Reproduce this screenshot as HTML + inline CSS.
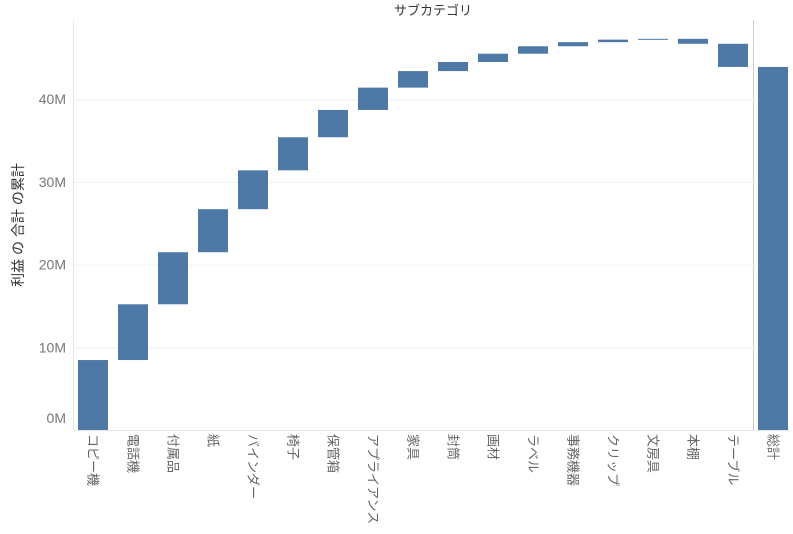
<!DOCTYPE html>
<html><head><meta charset="utf-8"><style>
body{margin:0;background:#fff;font-family:"Liberation Sans","Noto Sans CJK JP",sans-serif}
svg text{font-family:"Liberation Sans","Noto Sans CJK JP",sans-serif}
</style></head><body>
<svg id="c" width="793" height="529">
<text x="433" y="15" text-anchor="middle" font-size="13" fill="#333">サブカテゴリ</text>
<text transform="translate(23,225) rotate(-90)" text-anchor="middle" font-size="14" fill="#333">利益 の 合計 の累計</text>
<line x1="73.5" y1="20" x2="73.5" y2="430" stroke="#e6e6e6"/>
<line x1="753.5" y1="20" x2="753.5" y2="430" stroke="#ccc"/>
<g id="grid"></g><g id="bars"></g><g id="labels"></g>
</svg>
<script>
const categories=["コピー機","電話機","付属品","紙","バインダー","椅子","保管箱","アプライアンス","家具","封筒","画材","ラベル","事務機器","クリップ","文房具","本棚","テーブル"];
const deltas=[8.46,6.74,6.3,5.2,4.7,4.0,3.3,2.7,2.0,1.1,1.0,0.9,0.5,0.3,0.1,-0.6,-2.8];
const totalLabel="総計";
const ticks=[0,10,20,30,40];
const tickLabels=["0M","10M","20M","30M","40M"];
const NS="http://www.w3.org/2000/svg";
const y=v=>430-v*8.27;
const x=i=>i<categories.length?93+i*40:773;
function mk(t,a,p){const e=document.createElementNS(NS,t);for(const k in a)e.setAttribute(k,a[k]);p.appendChild(e);return e;}
const grid=document.getElementById('grid'),bars=document.getElementById('bars'),labels=document.getElementById('labels');
ticks.forEach((t,i)=>{
  if(t>0){const l=mk('line',{x1:74,x2:790,y1:y(t)+.5,y2:y(t)+.5,stroke:'#f0f0f0'},grid);
  
  }
  const tx=mk('text',{x:66,y:Math.min(y(t)+5,423),'text-anchor':'end','font-size':14,fill:'#777'},grid);
  tx.textContent=tickLabels[i];
  
  
});
const bl=mk('line',{x1:74,x2:790,y1:430.5,y2:430.5,stroke:'#e6e6e6'},grid);


let cum=0;
const all=categories.concat([totalLabel]);
all.forEach((c,i)=>{
  let a,b;
  if(i<categories.length){a=cum;cum+=deltas[i];b=cum;}else{a=0;b=cum;}
  const r=mk('rect',{x:x(i)-15,width:30,y:y(Math.max(a,b)),height:Math.max(1,Math.abs(y(a)-y(b))),fill:'#4e79a7'},bars);
  
  
  const t=mk('text',{transform:'translate('+x(i)+',434) rotate(90)','font-size':13,fill:'#666','dominant-baseline':'central'},labels);
  t.textContent=c;
  
  
});
</script>
</body></html>
